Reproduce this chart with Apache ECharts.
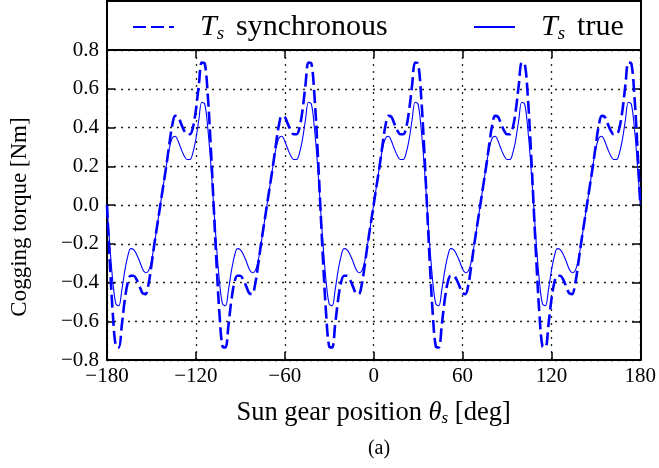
<!DOCTYPE html>
<html>
<head>
<meta charset="utf-8">
<script src="https://cdn.jsdelivr.net/npm/echarts@6/dist/echarts.min.js"></script>
<style>
html,body{margin:0;padding:0;background:#fff;}
#c{width:659px;height:468px;}
</style>
</head>
<body>
<div id="c"></div>
<script>
// Sun gear position [deg], every 2 degrees from -180 to 180
var xStart = -180, xStep = 2;
// T_s synchronous (dashed) [Nm]
var tsSync = [
  0, -0.31, -0.57, -0.73, -0.735, -0.62, -0.49, -0.40, -0.365, -0.365, -0.385, -0.42, -0.455, -0.46, -0.41, -0.31, -0.20, -0.10,
  0, 0.10, 0.20, 0.31, 0.41, 0.46, 0.455, 0.42, 0.385, 0.365, 0.365, 0.40, 0.49, 0.62, 0.735, 0.73, 0.57, 0.31,
  0, -0.31, -0.57, -0.73, -0.735, -0.62, -0.49, -0.40, -0.365, -0.365, -0.385, -0.42, -0.455, -0.46, -0.41, -0.31, -0.20, -0.10,
  0, 0.10, 0.20, 0.31, 0.41, 0.46, 0.455, 0.42, 0.385, 0.365, 0.365, 0.40, 0.49, 0.62, 0.735, 0.73, 0.57, 0.31,
  0, -0.31, -0.57, -0.73, -0.735, -0.62, -0.49, -0.40, -0.365, -0.365, -0.385, -0.42, -0.455, -0.46, -0.41, -0.31, -0.20, -0.10,
  0, 0.10, 0.20, 0.31, 0.41, 0.46, 0.455, 0.42, 0.385, 0.365, 0.365, 0.40, 0.49, 0.62, 0.735, 0.73, 0.57, 0.31,
  0, -0.31, -0.57, -0.73, -0.735, -0.62, -0.49, -0.40, -0.365, -0.365, -0.385, -0.42, -0.455, -0.46, -0.41, -0.31, -0.20, -0.10,
  0, 0.10, 0.20, 0.31, 0.41, 0.46, 0.455, 0.42, 0.385, 0.365, 0.365, 0.40, 0.49, 0.62, 0.735, 0.73, 0.57, 0.31,
  0, -0.31, -0.57, -0.73, -0.735, -0.62, -0.49, -0.40, -0.365, -0.365, -0.385, -0.42, -0.455, -0.46, -0.41, -0.31, -0.20, -0.10,
  0, 0.10, 0.20, 0.31, 0.41, 0.46, 0.455, 0.42, 0.385, 0.365, 0.365, 0.40, 0.49, 0.62, 0.735, 0.73, 0.57, 0.31,
  0
];
// T_s true (solid) [Nm]
var tsTrue = [
  0, -0.22, -0.40, -0.51, -0.52, -0.44, -0.34, -0.265, -0.225, -0.23, -0.255, -0.29, -0.33, -0.35, -0.34, -0.29, -0.20, -0.10,
  0, 0.10, 0.20, 0.29, 0.345, 0.355, 0.33, 0.29, 0.255, 0.235, 0.235, 0.27, 0.34, 0.44, 0.53, 0.52, 0.40, 0.22,
  0, -0.22, -0.40, -0.51, -0.52, -0.44, -0.34, -0.265, -0.225, -0.23, -0.255, -0.29, -0.33, -0.35, -0.34, -0.29, -0.20, -0.10,
  0, 0.10, 0.20, 0.29, 0.345, 0.355, 0.33, 0.29, 0.255, 0.235, 0.235, 0.27, 0.34, 0.44, 0.53, 0.52, 0.40, 0.22,
  0, -0.22, -0.40, -0.51, -0.52, -0.44, -0.34, -0.265, -0.225, -0.23, -0.255, -0.29, -0.33, -0.35, -0.34, -0.29, -0.20, -0.10,
  0, 0.10, 0.20, 0.29, 0.345, 0.355, 0.33, 0.29, 0.255, 0.235, 0.235, 0.27, 0.34, 0.44, 0.53, 0.52, 0.40, 0.22,
  0, -0.22, -0.40, -0.51, -0.52, -0.44, -0.34, -0.265, -0.225, -0.23, -0.255, -0.29, -0.33, -0.35, -0.34, -0.29, -0.20, -0.10,
  0, 0.10, 0.20, 0.29, 0.345, 0.355, 0.33, 0.29, 0.255, 0.235, 0.235, 0.27, 0.34, 0.44, 0.53, 0.52, 0.40, 0.22,
  0, -0.22, -0.40, -0.51, -0.52, -0.44, -0.34, -0.265, -0.225, -0.23, -0.255, -0.29, -0.33, -0.35, -0.34, -0.29, -0.20, -0.10,
  0, 0.10, 0.20, 0.29, 0.345, 0.355, 0.33, 0.29, 0.255, 0.235, 0.235, 0.27, 0.34, 0.44, 0.53, 0.52, 0.40, 0.22,
  0
];
var xTicks = [-180, -120, -60, 0, 60, 120, 180];
var yTicks = [-0.8, -0.6, -0.4, -0.2, 0.0, 0.2, 0.4, 0.6, 0.8];
var seriesNames = ['sync', 'true'];
var legendLabels = {sync: 'synchronous', 'true': 'true'};

var FONT = '"Liberation Serif", "DejaVu Serif", serif';
function pairs(arr) {
  return arr.map(function (v, i) { return [xStart + i * xStep, v]; });
}
function fmtX(v) { return (v < 0 ? '\u2212' : '') + Math.abs(v); }
function fmtY(v) { return (v < 0 ? '\u2212' : '') + Math.abs(v).toFixed(1); }

var chart = echarts.init(document.getElementById('c'), null, {renderer: 'canvas'});
var gridLine = {show: true, lineStyle: {color: '#222', width: 1.3, type: [2, 5]}};
var axisLineStyle = {show: true, onZero: false, lineStyle: {color: '#000', width: 2}};
var tickIn = {show: true, inside: true, length: 8, lineStyle: {color: '#000', width: 1.5}};

var legendRich = {
  g: {width: 21},
  t: {fontFamily: FONT, fontSize: 30, fontStyle: 'italic', color: '#000', lineHeight: 32},
  s: {fontFamily: FONT, fontSize: 19, fontStyle: 'italic', color: '#000', lineHeight: 12, verticalAlign: 'bottom'},
  sp: {width: 12},
  n: {fontFamily: FONT, fontSize: 30, color: '#000', lineHeight: 32}
};
function legendFmt(name) {
  return '{g|}{t|T}{s|s}{sp|}{n|' + legendLabels[name] + '}';
}
function makeLegend(name, left) {
  return {
    left: left, top: 7, itemWidth: 41, itemHeight: 14,
    data: [name], formatter: legendFmt, selectedMode: false,
    itemStyle: {opacity: 0},
    textStyle: {rich: legendRich}
  };
}

chart.setOption({
  animation: false,
  backgroundColor: '#fff',
  grid: {left: 107, right: 18, top: 50, bottom: 108, containLabel: false},
  legend: [makeLegend(seriesNames[0], 127), makeLegend(seriesNames[1], 468)],
  xAxis: [{
    type: 'value', min: -180, max: 180, interval: 60,
    axisLine: axisLineStyle, axisTick: tickIn,
    splitLine: gridLine,
    axisLabel: {formatter: fmtX, fontFamily: FONT, fontSize: 21, color: '#000', margin: 6},
    name: '{a|Sun gear position }{b|\u03b8}{s|s}{a| [deg]}',
    nameLocation: 'middle', nameGap: 39,
    nameTextStyle: {rich: {
      a: {fontFamily: FONT, fontSize: 26.5, color: '#000', lineHeight: 28},
      b: {fontFamily: FONT, fontSize: 26.5, fontStyle: 'italic', color: '#000', lineHeight: 28},
      s: {fontFamily: FONT, fontSize: 17, fontStyle: 'italic', color: '#000', lineHeight: 9, verticalAlign: 'bottom'}
    }}
  }, {
    type: 'value', min: -180, max: 180, interval: 60, position: 'top',
    axisLine: axisLineStyle, axisTick: tickIn, axisLabel: {show: false}, splitLine: {show: false}
  }],
  yAxis: [{
    type: 'value', min: -0.8, max: 0.8, interval: 0.2,
    axisLine: axisLineStyle, axisTick: tickIn,
    splitLine: gridLine,
    axisLabel: {formatter: fmtY, fontFamily: FONT, fontSize: 21, color: '#000', margin: 8},
    name: 'Cogging torque [Nm]',
    nameLocation: 'middle', nameGap: 76, nameRotate: 90,
    nameTextStyle: {fontFamily: FONT, fontSize: 23, color: '#000', padding: [0, 24, 0, 0]}
  }, {
    type: 'value', min: -0.8, max: 0.8, interval: 0.2, position: 'right',
    axisLine: axisLineStyle, axisTick: tickIn, axisLabel: {show: false}, splitLine: {show: false}
  }],
  title: {
    text: '(a)', left: 374, top: 434, textAlign: 'center',
    textStyle: {fontFamily: FONT, fontSize: 20, fontWeight: 'normal', color: '#000'}
  },
  graphic: [{
    type: 'rect', z: 0, silent: true,
    shape: {x: 107, y: 1, width: 534, height: 49},
    style: {fill: 'none', stroke: '#000', lineWidth: 2}
  }],
  series: [{
    name: seriesNames[0], type: 'line', data: pairs(tsSync),
    showSymbol: false, symbol: 'none', smooth: 0.35,
    lineStyle: {color: '#0000ff', width: 2.6, type: [13, 5]},
    itemStyle: {color: '#0000ff'}, z: 3
  }, {
    name: seriesNames[1], type: 'line', data: pairs(tsTrue),
    showSymbol: false, symbol: 'none', smooth: 0.35,
    lineStyle: {color: '#0000ff', width: 1.1},
    itemStyle: {color: '#0000ff'}, z: 4
  }]
});
</script>
</body>
</html>
